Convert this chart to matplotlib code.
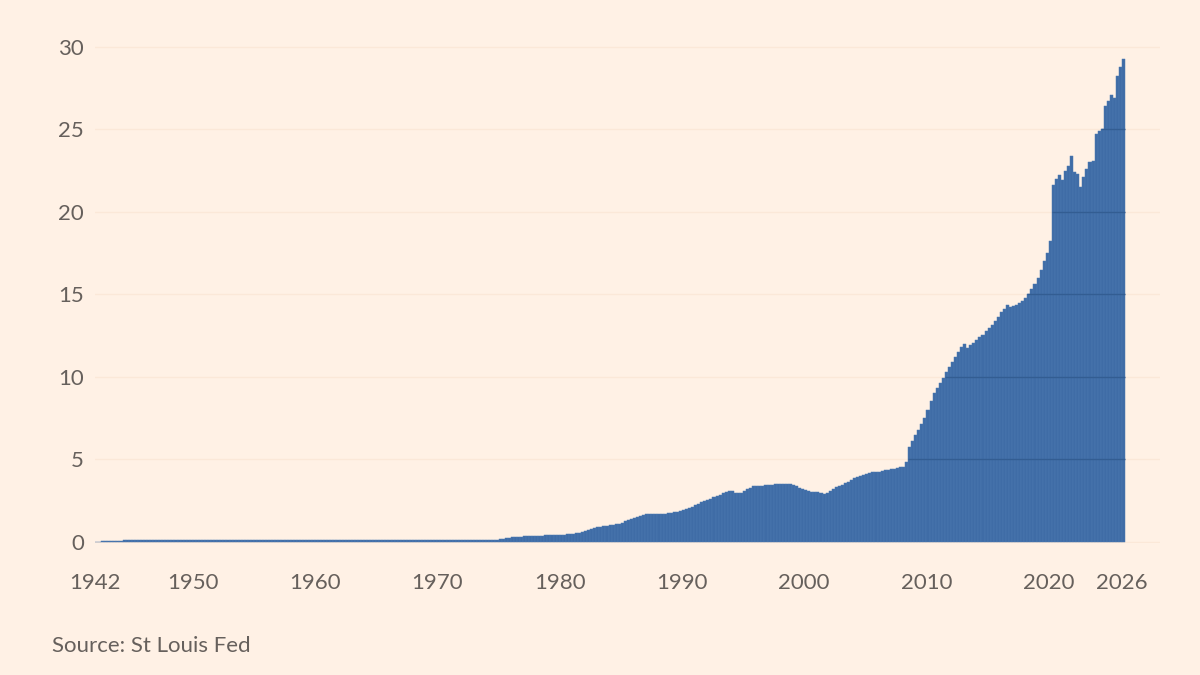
import matplotlib
matplotlib.use("Agg")
import matplotlib.pyplot as plt
import numpy as np

plt.rcParams['font.family'] = ['Lato', 'DejaVu Sans']

# Quarterly values (trillions), starting 1942 Q1
vals_1940s = [0.00, 0.01, 0.02, 0.03, 0.04, 0.05, 0.06, 0.07,
              0.07, 0.08, 0.08, 0.09, 0.09, 0.10, 0.10, 0.11,
              0.11, 0.11, 0.11, 0.11, 0.10, 0.10, 0.10, 0.10,
              0.10, 0.10, 0.10, 0.10, 0.10, 0.10, 0.10, 0.09]
vals_1950s = [0.09, 0.09, 0.09, 0.09, 0.09, 0.09, 0.09, 0.09,
              0.09, 0.09, 0.09, 0.09, 0.08, 0.08, 0.08, 0.08,
              0.08, 0.08, 0.08, 0.08, 0.08, 0.08, 0.08, 0.08,
              0.08, 0.08, 0.08, 0.08, 0.08, 0.08, 0.08, 0.08,
              0.08, 0.08, 0.08, 0.08, 0.08, 0.08, 0.08, 0.08]
vals_1960s = [0.08, 0.08, 0.08, 0.08, 0.08, 0.08, 0.08, 0.08,
              0.08, 0.08, 0.08, 0.08, 0.08, 0.08, 0.08, 0.08,
              0.08, 0.08, 0.08, 0.09, 0.09, 0.09, 0.09, 0.09,
              0.09, 0.09, 0.09, 0.09, 0.09, 0.09, 0.09, 0.09,
              0.10, 0.10, 0.10, 0.10, 0.10, 0.10, 0.10, 0.10]
vals_1970s = [0.10, 0.10, 0.10, 0.11, 0.11, 0.11, 0.11, 0.11,
              0.11, 0.11, 0.12, 0.12, 0.12, 0.12, 0.12, 0.12,
              0.12, 0.12, 0.12, 0.13, 0.14, 0.17, 0.20, 0.24,
              0.26, 0.28, 0.30, 0.31, 0.32, 0.33, 0.34, 0.35,
              0.36, 0.36, 0.37, 0.38, 0.38, 0.39, 0.40, 0.40]
vals_1980s = [0.41, 0.43, 0.44, 0.46, 0.48, 0.51, 0.54, 0.58,
              0.62, 0.70, 0.79, 0.85, 0.89, 0.92, 0.95, 0.98,
              1.00, 1.02, 1.05, 1.10, 1.16, 1.23, 1.29, 1.35,
              1.42, 1.49, 1.56, 1.62, 1.66, 1.68, 1.67, 1.66,
              1.68, 1.70, 1.71, 1.73, 1.76, 1.79, 1.83, 1.87]
vals_1990s = [1.93, 1.99, 2.05, 2.12, 2.20, 2.29, 2.38, 2.46,
              2.55, 2.62, 2.70, 2.78, 2.86, 2.93, 3.00, 3.06,
              3.05, 2.98, 2.95, 2.98, 3.10, 3.18, 3.26, 3.36,
              3.40, 3.38, 3.40, 3.44, 3.45, 3.44, 3.47, 3.48,
              3.50, 3.49, 3.52, 3.50, 3.45, 3.35, 3.25, 3.20]
vals_2000s = [3.15, 3.08, 3.03, 3.02, 3.00, 2.95, 2.92, 2.98,
              3.05, 3.20, 3.30, 3.38, 3.45, 3.55, 3.65, 3.75,
              3.85, 3.95, 4.00, 4.06, 4.12, 4.18, 4.22, 4.24,
              4.25, 4.28, 4.33, 4.36, 4.40, 4.42, 4.47, 4.50,
              4.55, 4.85, 5.75, 6.10, 6.45, 6.80, 7.15, 7.50]
vals_2010s = [8.00, 8.50, 9.00, 9.30, 9.60, 9.90, 10.30, 10.60,
              10.90, 11.20, 11.50, 11.80, 12.00, 11.75, 11.90, 12.05,
              12.20, 12.40, 12.55, 12.75, 12.95, 13.15, 13.40, 13.60,
              13.90, 14.10, 14.35, 14.20, 14.30, 14.35, 14.45, 14.60,
              14.80, 15.00, 15.30, 15.60, 16.00, 16.50, 17.00, 17.50]
vals_2020s = [18.20, 21.60, 22.00, 22.20, 21.90, 22.50, 22.80, 23.40,
              22.40, 22.30, 21.50, 22.10, 22.60, 23.00, 23.10, 24.70,
              24.90, 25.00, 26.40, 26.70, 27.10, 26.90, 28.20, 28.80,
              29.25]

values = np.array(vals_1940s + vals_1950s + vals_1960s + vals_1970s +
                  vals_1980s + vals_1990s + vals_2000s + vals_2010s +
                  vals_2020s)
start_year = 1942
x = start_year + np.arange(len(values)) * 0.25

xtick_years = [1942, 1950, 1960, 1970, 1980, 1990, 2000, 2010, 2020, 2026]
ytick_vals = [0, 5, 10, 15, 20, 25, 30]
source_text = "Source: St Louis Fed"

BG = '#fff1e5'
BAR = '#3f6ca6'
EDGE = '#4d7ab2'
TXT = '#66605c'

fig = plt.figure(figsize=(12, 6.75), dpi=100, facecolor=BG)
ax = fig.add_axes([95/1200, 0.195, (1160-95)/1200, 0.938-0.195])
ax.set_facecolor(BG)

ax.bar(x, values, width=0.25, align='edge', color=BAR, edgecolor=EDGE,
       linewidth=0.35, zorder=2)

ax.set_xlim(1942.1, 2029.1)
ax.set_ylim(-0.1, 30.3)

# faint gridlines on the paper
for lv in ytick_vals:
    ax.axhline(lv, color='#fbe8d8', lw=1.0, zorder=1)
# slightly darker gridlines where they cross the bars
for lv in ytick_vals[1:]:
    above = values >= lv
    i = 0
    n = len(values)
    while i < n:
        if above[i]:
            j = i
            while j + 1 < n and above[j + 1]:
                j += 1
            ax.hlines(lv, x[i], x[j] + 0.25, color='#335d92', lw=1.0, zorder=3)
            i = j + 1
        else:
            i += 1

ax.set_xticks(xtick_years)
ax.set_xticklabels([str(y) for y in xtick_years])
ax.set_yticks(ytick_vals)
ax.set_yticklabels([str(v) for v in ytick_vals])
ax.tick_params(axis='both', length=0, labelsize=16, colors=TXT)
ax.tick_params(axis='y', pad=8)
ax.tick_params(axis='x', pad=21)
for s in ax.spines.values():
    s.set_visible(False)

fig.text(52/1200, 1 - 652/675, source_text, fontsize=16, color=TXT,
         ha='left', va='baseline')

fig.savefig('out.png', dpi=100, facecolor=BG)
